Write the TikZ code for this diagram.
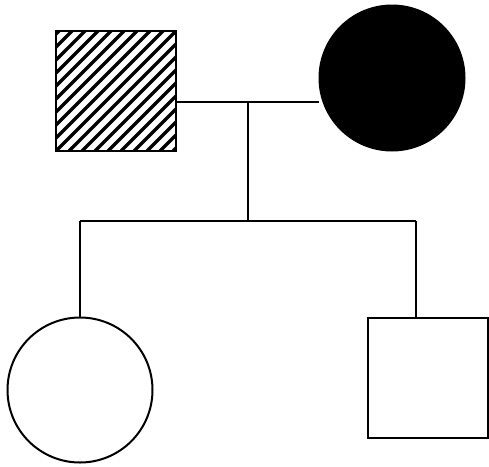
\documentclass[tikz,border=0pt]{standalone}
\begin{document}
\begin{tikzpicture}[x=1pt,y=-1pt,
  ind/.style={draw=black,line width=2pt,minimum size=120pt,inner sep=0pt},
  malebox/.style={ind,rectangle},
  femcirc/.style={ind,circle,minimum size=145pt},
  hatched/.style={path picture={
    \foreach \k in {-12,...,12}{
      \draw[line width=3.5pt,black] ([xshift=\k*13pt]path picture bounding box.south west) -- ++(130pt,130pt);
    }}},
  link/.style={draw=black,line width=1.5pt}]
\useasboundingbox (0,0) rectangle (489,466);
\node[malebox,hatched] (father) at (116,91) {};
\node[femcirc,fill=black] (mother) at (392,78) {};
\node[femcirc] (daughter) at (80,390) {};
\node[malebox] (son) at (428,378) {};
\coordinate (m) at (248,102);
\coordinate (s) at (248,221);
\coordinate (sl) at (80,221);
\coordinate (sr) at (416,221);
\draw[link] (father.east |- m) -- (mother.west |- m);
\draw[link] (m) -- (s);
\draw[link] (sl) -- (sr);
\draw[link] (sl) -- (daughter.north);
\draw[link] (sr) -- (sr |- son.north);
\end{tikzpicture}
\end{document}
